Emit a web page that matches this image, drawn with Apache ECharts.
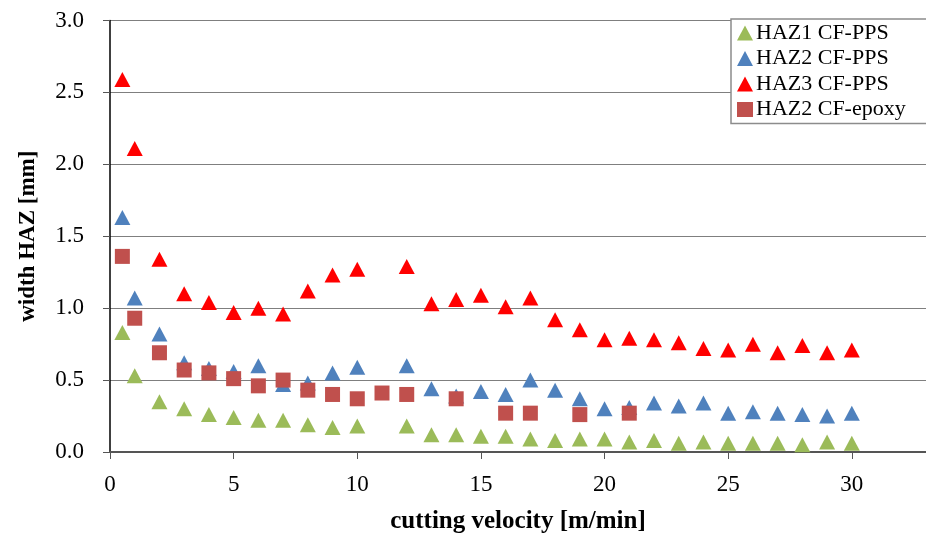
<!DOCTYPE html>
<html>
<head>
<meta charset="utf-8">
<script src="https://cdn.jsdelivr.net/npm/echarts@6/dist/echarts.min.js"></script>
<style>
  html, body { margin: 0; padding: 0; background: #fff; }
  #chart { width: 926px; height: 539px; }
</style>
</head>
<body>
<div id="chart"></div>
<script>
// Cutting velocities [m/min] for the CF-PPS measurements
const velocityPPS = [0.5, 1, 2, 3, 4, 5, 6, 7, 8, 9, 10, 12, 13, 14, 15, 16, 17, 18, 19, 20, 21, 22, 23, 24, 25, 26, 27, 28, 29, 30];
// Cutting velocities [m/min] for the CF-epoxy measurements
const velocityEpoxy = [0.5, 1, 2, 3, 4, 5, 6, 7, 8, 9, 10, 11, 12, 14, 16, 17, 19, 21];

// HAZ widths [mm]
const haz1PPS = [0.83, 0.53, 0.35, 0.30, 0.26, 0.24, 0.22, 0.22, 0.19, 0.17, 0.18, 0.18, 0.12, 0.12, 0.11, 0.11, 0.09, 0.08, 0.09, 0.09, 0.07, 0.08, 0.06, 0.07, 0.06, 0.06, 0.06, 0.05, 0.07, 0.06];
const haz2PPS = [1.63, 1.07, 0.82, 0.62, 0.58, 0.56, 0.60, 0.47, 0.48, 0.55, 0.59, 0.60, 0.44, 0.39, 0.42, 0.40, 0.50, 0.43, 0.37, 0.30, 0.31, 0.34, 0.32, 0.34, 0.27, 0.28, 0.27, 0.26, 0.25, 0.27];
const haz3PPS = [2.59, 2.11, 1.34, 1.10, 1.04, 0.97, 1.00, 0.96, 1.12, 1.23, 1.27, 1.29, 1.03, 1.06, 1.09, 1.01, 1.07, 0.92, 0.85, 0.78, 0.79, 0.78, 0.76, 0.72, 0.71, 0.75, 0.69, 0.74, 0.69, 0.71];
const haz2Epoxy = [1.36, 0.93, 0.69, 0.57, 0.55, 0.51, 0.46, 0.50, 0.43, 0.40, 0.37, 0.41, 0.40, 0.37, 0.27, 0.27, 0.26, 0.27];

const seriesNames = ['HAZ1 CF-PPS', 'HAZ2 CF-PPS', 'HAZ3 CF-PPS', 'HAZ2 CF-epoxy'];
const yTicks = [0, 0.5, 1.0, 1.5, 2.0, 2.5, 3.0];
const xTicks = [0, 5, 10, 15, 20, 25, 30];

const pair = (xs, ys) => xs.map((x, i) => [x, ys[i]]);
const serif = '"Liberation Serif", "Times New Roman", serif';

const chart = echarts.init(document.getElementById('chart'), null, { renderer: 'canvas' });

const triangle = (name, xs, ys, color) => ({
  name: name,
  type: 'scatter',
  symbol: 'triangle',
  symbolSize: [16, 15],
  itemStyle: { color: color, opacity: 1 },
  data: pair(xs, ys)
});

chart.setOption({
  animation: false,
  backgroundColor: '#ffffff',
  grid: { left: 110, top: 20.5, right: 0, bottom: 85.7 },
  legend: {
    orient: 'vertical',
    left: 731,
    top: 19,
    padding: [3, 24, 3, 6],
    itemGap: 3.5,
    itemWidth: 16,
    itemHeight: 15,
    itemStyle: { opacity: 1 },
    backgroundColor: '#ffffff',
    borderColor: '#8c8c8c',
    borderWidth: 1.5,
    borderRadius: 0,
    textStyle: { fontFamily: serif, fontSize: 22, color: '#000', padding: [0, 0, 0, -2] },
    data: [
      { name: seriesNames[0], icon: 'triangle' },
      { name: seriesNames[1], icon: 'triangle' },
      { name: seriesNames[2], icon: 'triangle' },
      { name: seriesNames[3], icon: 'rect' }
    ]
  },
  xAxis: {
    type: 'value',
    min: 0,
    max: 33,
    interval: 5,
    name: 'cutting velocity [m/min]',
    nameLocation: 'middle',
    nameGap: 57,
    nameTextStyle: { fontFamily: serif, fontSize: 25, fontWeight: 'bold', color: '#000' },
    axisLine: { onZero: false, lineStyle: { color: '#555', width: 2 } },
    axisTick: { show: true, length: 7, lineStyle: { color: '#555', width: 1 } },
    axisLabel: {
      fontFamily: serif, fontSize: 23, color: '#000', margin: 21,
      showMaxLabel: false,
      formatter: v => (xTicks.indexOf(v) >= 0 ? String(v) : '')
    },
    splitLine: { show: false }
  },
  yAxis: {
    type: 'value',
    min: 0,
    max: 3,
    interval: 0.5,
    name: 'width HAZ [mm]',
    nameLocation: 'middle',
    nameGap: 70,
    nameTextStyle: { fontFamily: serif, fontSize: 23, fontWeight: 'bold', color: '#000' },
    axisLine: { show: true, lineStyle: { color: '#000', width: 1.5 } },
    axisTick: { show: true, length: 7, lineStyle: { color: '#555', width: 1 } },
    axisLabel: {
      fontFamily: serif, fontSize: 23, color: '#000', margin: 26,
      formatter: v => (yTicks.indexOf(v) >= 0 ? v.toFixed(1) : '')
    },
    splitLine: { show: true, lineStyle: { color: '#7f7f7f', width: 1.2 } }
  },
  series: [
    triangle(seriesNames[0], velocityPPS, haz1PPS, '#9BBB59'),
    triangle(seriesNames[1], velocityPPS, haz2PPS, '#4F81BD'),
    triangle(seriesNames[2], velocityPPS, haz3PPS, '#FF0000'),
    {
      name: seriesNames[3],
      type: 'scatter',
      symbol: 'rect',
      symbolSize: [15, 15],
      itemStyle: { color: '#C0504D', opacity: 1 },
      data: pair(velocityEpoxy, haz2Epoxy)
    }
  ]
});
</script>
</body>
</html>
